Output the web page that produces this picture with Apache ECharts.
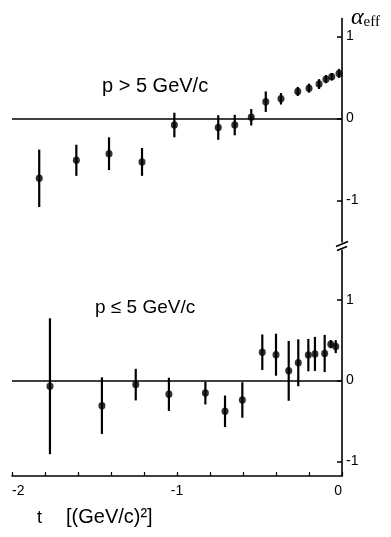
<!DOCTYPE html>
<html><head><meta charset="utf-8">
<script src="https://cdn.jsdelivr.net/npm/echarts@6/dist/echarts.min.js"></script>
<style>html,body{margin:0;padding:0;background:#fff}#c{width:391px;height:537px}</style>
</head><body><div id="c"></div>
<script>
// Top panel: p > 5 GeV/c
const topT   = [-1.835, -1.61, -1.412, -1.212, -1.016, -0.75, -0.65, -0.55, -0.462, -0.37, -0.268, -0.20, -0.139, -0.097, -0.062, -0.018];
const topVal = [-0.73, -0.51, -0.43, -0.53, -0.08, -0.11, -0.08, 0.015, 0.205, 0.24, 0.33, 0.37, 0.42, 0.48, 0.51, 0.55];
const topErr = [0.35, 0.19, 0.20, 0.17, 0.15, 0.15, 0.125, 0.10, 0.125, 0.07, 0.055, 0.055, 0.06, 0.05, 0.045, 0.055];
// Bottom panel: p <= 5 GeV/c
const botT   = [-1.77, -1.455, -1.25, -1.049, -0.828, -0.709, -0.604, -0.483, -0.40, -0.323, -0.265, -0.204, -0.164, -0.105, -0.068, -0.038];
const botVal = [-0.07, -0.31, -0.05, -0.17, -0.155, -0.38, -0.24, 0.35, 0.32, 0.12, 0.22, 0.315, 0.33, 0.335, 0.45, 0.42];
const botErr = [0.84, 0.35, 0.195, 0.205, 0.14, 0.195, 0.22, 0.22, 0.26, 0.37, 0.29, 0.20, 0.21, 0.23, 0.05, 0.08];
// Tick labels
const xTickLabels = [-2, -1, 0];
const xMinorTicks = [-2, -1.8, -1.6, -1.4, -1.2, -1, -0.8, -0.6, -0.4, -0.2, 0];
const yTickLabels = [-1, 0, 1];

const FONT = 'Liberation Sans, Arial, sans-serif';
const chart = echarts.init(document.getElementById('c'), null, {renderer: 'canvas'});

function errSeries(xi, yi, t, v, e) {
  return {
    type: 'custom', xAxisIndex: xi, yAxisIndex: yi, silent: true, z: 2,
    data: t.map((x, i) => [x, v[i] - e[i], v[i] + e[i]]),
    encode: {x: 0, y: [1, 2]},
    renderItem: (params, api) => {
      const p1 = api.coord([api.value(0), api.value(1)]);
      const p2 = api.coord([api.value(0), api.value(2)]);
      return {type: 'line', shape: {x1: p1[0], y1: p1[1], x2: p2[0], y2: p2[1]},
              style: {stroke: '#000', lineWidth: 2.2}};
    }
  };
}
function ptSeries(xi, yi, t, v) {
  return {
    type: 'scatter', xAxisIndex: xi, yAxisIndex: yi, silent: true, z: 3,
    symbol: 'circle', symbolSize: [7, 7.5],
    itemStyle: {color: '#000'},
    data: t.map((x, i) => [x, v[i]]),
    markLine: {silent: true, symbol: ['none', 'none'], label: {show: false},
      lineStyle: {color: '#000', width: 1.6, type: 'solid'}, data: [{yAxis: 0}]}
  };
}
function yAxis(gi, min, max) {
  return {
    type: 'value', gridIndex: gi, position: 'right', min: min, max: max,
    axisLine: {show: true, onZero: false, lineStyle: {color: '#000', width: 1.6}},
    axisTick: {show: true, inside: true, length: 5, customValues: yTickLabels, lineStyle: {color: '#000', width: 1.5}},
    axisLabel: {show: true, customValues: yTickLabels, margin: 4, color: '#000', fontSize: 14, fontFamily: FONT,
      formatter: v => String(v)},
    splitLine: {show: false}
  };
}

chart.setOption({
  animation: false,
  backgroundColor: '#fff',
  grid: [
    {left: 12, right: 49, top: 18.5, height: 227},
    {left: 12, right: 49, top: 252, height: 224}
  ],
  xAxis: [
    {type: 'value', gridIndex: 0, min: -2, max: 0, show: false},
    {type: 'value', gridIndex: 1, min: -2, max: 0, interval: 0.2,
      axisLine: {show: true, onZero: false, lineStyle: {color: '#000', width: 1.6}},
      axisTick: {show: true, inside: true, length: 4, customValues: xMinorTicks, lineStyle: {color: '#000', width: 1.2}},
      axisLabel: {show: true, customValues: xTickLabels, margin: 8, color: '#000', fontSize: 14, fontFamily: FONT,
        alignMinLabel: 'left', alignMaxLabel: 'right',
        formatter: v => String(v)},
      splitLine: {show: false}}
  ],
  yAxis: [yAxis(0, -1.55, 1.22), yAxis(1, -1.18, 1.59)],
  series: [
    errSeries(0, 0, topT, topVal, topErr), ptSeries(0, 0, topT, topVal),
    errSeries(1, 1, botT, botVal, botErr), ptSeries(1, 1, botT, botVal)
  ]
});

// decorations
const xr = chart.convertToPixel({xAxisIndex: 1}, 0);
const yTopEnd = chart.convertToPixel({yAxisIndex: 0}, -1.55);
const yBotStart = chart.convertToPixel({yAxisIndex: 1}, 1.59);
chart.setOption({
  graphic: [
    {type: 'rect', shape: {x: xr - 3, y: yTopEnd - 3, width: 6, height: yBotStart - yTopEnd + 3}, style: {fill: '#fff'}, z: 10},
    {type: 'line', shape: {x1: xr - 6, y1: yTopEnd + 1, x2: xr + 6, y2: yTopEnd - 4}, style: {stroke: '#000', lineWidth: 1.6}, z: 11},
    {type: 'line', shape: {x1: xr - 5, y1: yTopEnd + 5, x2: xr + 5, y2: yTopEnd + 1}, style: {stroke: '#000', lineWidth: 1.6}, z: 11},
    {type: 'line', shape: {x1: xr, y1: yTopEnd + 4, x2: xr, y2: yBotStart}, style: {stroke: '#000', lineWidth: 1.6}, z: 11},
    {type: 'text', x: 102, y: 76, style: {text: 'p > 5 GeV/c', font: '20px ' + FONT, fill: '#000'}, z: 12},
    {type: 'text', x: 95, y: 298, style: {text: 'p \u2264 5 GeV/c', font: '19px ' + FONT, fill: '#000'}, z: 12},
    {type: 'text', x: 37, y: 509, style: {text: 't', font: '18px ' + FONT, fill: '#000'}, z: 12},
    {type: 'text', x: 66, y: 507, style: {text: '[(GeV/c)\u00b2]', font: '20px ' + FONT, fill: '#000'}, z: 12},
    {type: 'text', x: 351, y: 6, style: {
      text: '{a|\u03b1}{s|eff}',
      rich: {
        a: {fontFamily: 'Liberation Serif, DejaVu Serif, serif', fontStyle: 'italic', fontSize: 24, fill: '#000', color: '#000'},
        s: {fontFamily: 'Liberation Serif, DejaVu Serif, serif', fontSize: 15, fill: '#000', color: '#000', verticalAlign: 'bottom', padding: [6, 0, 0, 0]}
      }}, z: 12}
  ]
});
</script></body></html>
